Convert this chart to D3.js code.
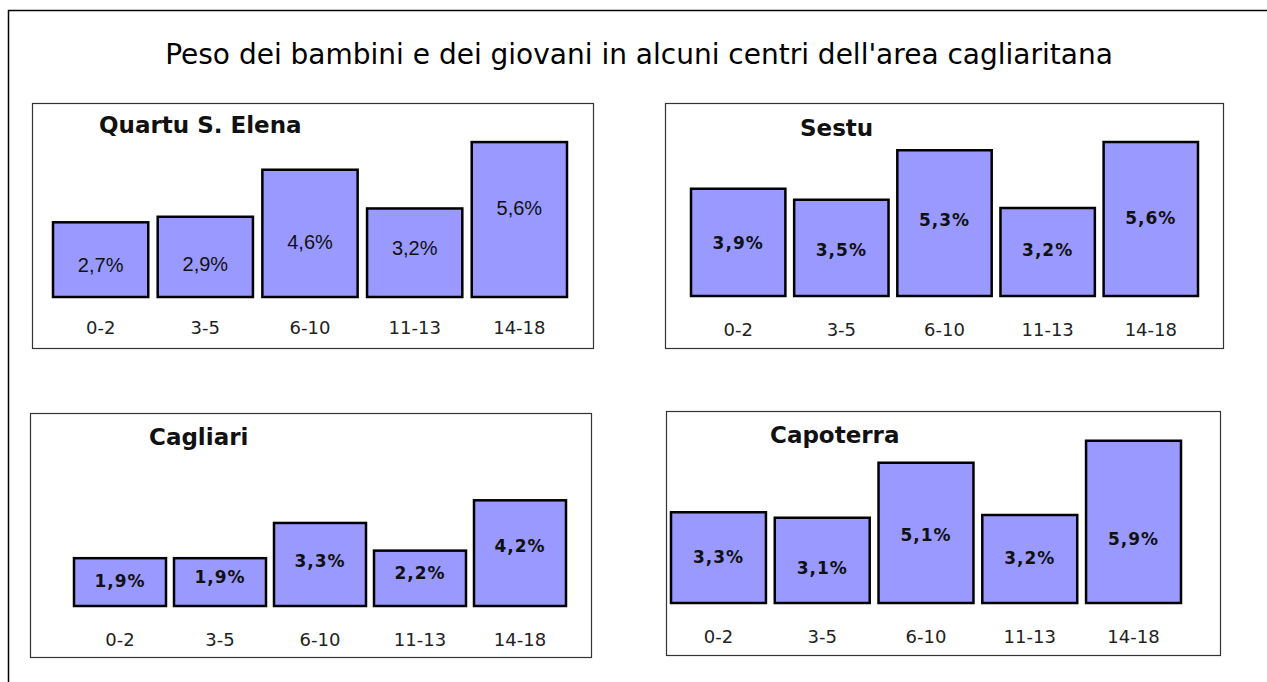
<!DOCTYPE html>
<html>
<head>
<meta charset="utf-8">
<script src="https://cdn.jsdelivr.net/npm/d3@7"></script>
<style>
  body { margin: 0; background: #fff; }
  svg { display: block; }
</style>
</head>
<body>
<svg class="chart"></svg>
<script>
// data
var ageGroups = ["0-2", "3-5", "6-10", "11-13", "14-18"];
var towns = ["Quartu S. Elena", "Sestu", "Cagliari", "Capoterra"];
var quartuValues = [2.7, 2.9, 4.6, 3.2, 5.6];
var sestuValues = [3.9, 3.5, 5.3, 3.2, 5.6];
var cagliariValues = [1.9, 1.9, 3.3, 2.2, 4.2];
var capoterraValues = [3.3, 3.1, 5.1, 3.2, 5.9];
var chartTitle = "Peso dei bambini e dei giovani in alcuni centri dell'area cagliaritana";

var seriesByTown = [quartuValues, sestuValues, cagliariValues, capoterraValues];

// layout of the four little charts (pixels)
var panels = [
  {box: [32, 103, 561, 245], bars: [53, 567], base: 297, top6: 131, pad: 0.09,
   titleX: 99, titleY: 133, catY: 335, bold: false,
   labelAt: [0.34, 0.325, 0.38, 0.48, 0.53]},
  {box: [665, 103, 558, 245], bars: [691, 1198], base: 296, top6: 131, pad: 0.085,
   titleX: 800, titleY: 136, catY: 337, bold: true,
   labelAt: [0.44, 0.42, 0.48, 0.45, 0.47]},
  {box: [30, 413, 561, 244], bars: [74, 566], base: 606, top6: 455, pad: 0.08,
   titleX: 149, titleY: 445, catY: 647, bold: true,
   labelAt: [0.40, 0.48, 0.47, 0.48, 0.51]},
  {box: [666, 411, 554, 244], bars: [671, 1181], base: 603, top6: 438, pad: 0.085,
   titleX: 770, titleY: 443, catY: 644, bold: true,
   labelAt: [0.44, 0.34, 0.44, 0.44, 0.36]}
];

var width = 1267, height = 682;

var svg = d3.select(".chart")
    .attr("width", width)
    .attr("height", height);

// outer frame, runs off the right and bottom edges
svg.append("rect")
    .attr("x", 8.5).attr("y", 10.5)
    .attr("width", 1300).attr("height", 700)
    .attr("fill", "none")
    .attr("stroke", "#000")
    .attr("stroke-width", 1.5);

svg.append("text")
    .attr("x", 639).attr("y", 64)
    .attr("text-anchor", "middle")
    .style("font-family", "'DejaVu Sans', Verdana, sans-serif")
    .style("font-size", "28px")
    .attr("fill", "#000")
    .text(chartTitle);

panels.forEach(function(p, i) {
    var values = seriesByTown[i];

    var g = svg.append("g");

    g.append("rect")
        .attr("x", p.box[0] + 0.5).attr("y", p.box[1] + 0.5)
        .attr("width", p.box[2]).attr("height", p.box[3])
        .attr("fill", "#fff")
        .attr("stroke", "#333")
        .attr("stroke-width", 1.2);

    var x = d3.scaleBand().domain(ageGroups).range(p.bars).paddingInner(p.pad);
    var y = d3.scaleLinear().domain([0, 6]).range([p.base, p.top6]);

    g.selectAll(".bar").data(values).enter()
        .append("rect")
        .attr("class", "bar")
        .attr("x", function(d, j) { return x(ageGroups[j]); })
        .attr("y", function(d) { return y(d); })
        .attr("width", x.bandwidth())
        .attr("height", function(d) { return y(0) - y(d); })
        .attr("fill", "#9999ff")
        .attr("stroke", "#000")
        .attr("stroke-width", 2.5);

    g.selectAll(".val").data(values).enter()
        .append("text")
        .attr("class", "val")
        .attr("x", function(d, j) { return x(ageGroups[j]) + x.bandwidth() / 2; })
        .attr("y", function(d, j) { return y(d * p.labelAt[j]); })
        .attr("text-anchor", "middle")
        .style("font-family", p.bold ? "'DejaVu Sans', sans-serif" : "'Liberation Sans', Arial, sans-serif")
        .style("font-weight", p.bold ? "bold" : "normal")
        .style("font-size", p.bold ? "17px" : "20px")
        .style("letter-spacing", p.bold ? "1px" : "0px")
        .attr("fill", "#111")
        .text(function(d) { return d3.format(".1f")(d).replace(".", ",") + "%"; });

    // category labels via a bottom axis without lines
    var axis = g.append("g")
        .attr("transform", "translate(0," + (p.catY - 14) + ")")
        .call(d3.axisBottom(x).tickSize(0).tickPadding(0));
    axis.select(".domain").remove();
    axis.selectAll("text")
        .attr("dy", "0.71em")
        .style("font-family", "'DejaVu Sans', Verdana, sans-serif")
        .style("font-size", "18px")
        .attr("fill", "#222");

    g.append("text")
        .attr("x", p.titleX).attr("y", p.titleY)
        .style("font-family", "'DejaVu Sans', Verdana, sans-serif")
        .style("font-weight", "bold")
        .style("font-size", "23px")
        .attr("fill", "#111")
        .text(towns[i]);
});
</script>
</body>
</html>
